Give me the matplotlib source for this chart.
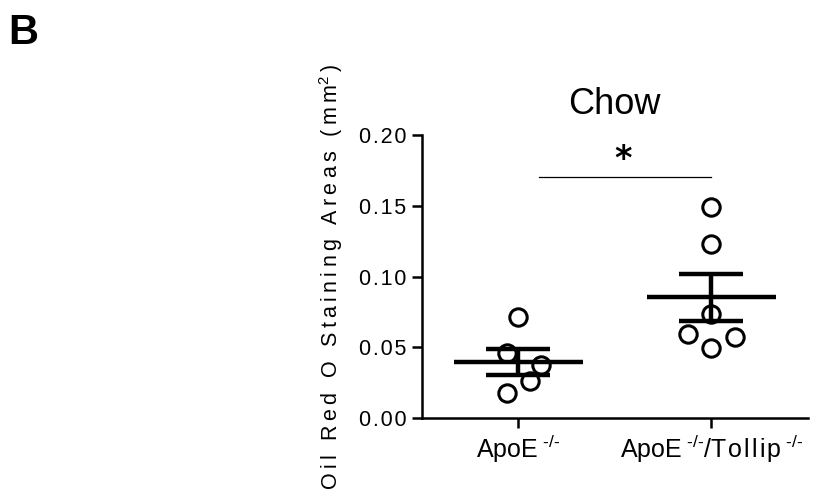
import numpy as np
import matplotlib
matplotlib.use('Agg')
import matplotlib.pyplot as plt

plt.rcParams['font.family'] = ['Liberation Sans', 'DejaVu Sans']
plt.rcParams['mathtext.fontset'] = 'custom'
plt.rcParams['mathtext.rm'] = 'Liberation Sans'
plt.rcParams['mathtext.it'] = 'Liberation Sans'
plt.rcParams['mathtext.bf'] = 'Liberation Sans:bold'

# данные
groups = ['ApoE', 'ApoE/Tollip']
apoe_vals = [0.0712, 0.0457, 0.0375, 0.0261, 0.0175]
apoe_tollip_vals = [0.1493, 0.1230, 0.0735, 0.0594, 0.0575, 0.0493]
apoe_jitter = [0.0, -0.06, 0.12, 0.06, -0.06]
apoe_tollip_jitter = [0.0, 0.0, 0.0, -0.12, 0.12, 0.0]
y_ticks = [0.00, 0.05, 0.10, 0.15, 0.20]
sig_y = 0.170
sig_x = [0.11, 1.0]

TS = '\u2009'
HS = '\u200a'


def spaced(s, sep=TS):
    # GraphPad-style letter spacing
    return sep.join(list(s))


fig = plt.figure(figsize=(8.17, 4.98), dpi=100)
ax = fig.add_axes([0.516, 0.1606, 0.473, 0.5683])

data = [apoe_vals, apoe_tollip_vals]
jitters = [apoe_jitter, apoe_tollip_jitter]
for i, (vals, jit) in enumerate(zip(data, jitters)):
    vals = np.array(vals)
    xs = i + np.array(jit)
    ax.plot(xs, vals, 'o', ms=12.5, mfc='none', mec='black', mew=2.2, zorder=2)
    m = vals.mean()
    sem = vals.std(ddof=1) / np.sqrt(len(vals))
    ax.plot([i - 0.333, i + 0.333], [m, m], color='black', lw=3.2, solid_capstyle='butt', zorder=3)
    ax.errorbar(i, m, yerr=sem, fmt='none', ecolor='black', elinewidth=3.2,
                capsize=23, capthick=3.2, zorder=3)

ax.plot(sig_x, [sig_y, sig_y], color='black', lw=0.9)
ax.text(np.mean(sig_x) - 0.01, sig_y + 0.013, '*', ha='center', va='center',
        fontsize=24, family='DejaVu Sans', fontweight='bold')

ax.set_xlim(-0.5, 1.5)
ax.set_ylim(0, 0.2)
ax.set_yticks(y_ticks)
ax.set_yticklabels([spaced(f'{v:.2f}', HS) for v in y_ticks], fontsize=15.5)
ax.set_xticks([0, 1])
sup = TS + r'$^{\text{-/-}}$'
ax.set_xticklabels(['ApoE' + sup, 'ApoE' + sup + '/' + spaced('Tollip', HS) + sup], fontsize=18)

for s in ['top', 'right']:
    ax.spines[s].set_visible(False)
for s in ['left', 'bottom']:
    ax.spines[s].set_linewidth(1.8)
ax.tick_params(width=1.8, length=7, direction='out', colors='black', pad=4)

ax.set_ylabel(spaced('Oil Red O Staining Areas (mm') + r'$^{2}$' + TS + ')', fontsize=15.5, labelpad=10)
ax.set_title('Chow', fontsize=26, pad=15)

fig.text(8 / 817, 1 - 44 / 498, 'B', fontsize=30, fontweight='bold', va='baseline')

fig.savefig('out.png', dpi=100)
